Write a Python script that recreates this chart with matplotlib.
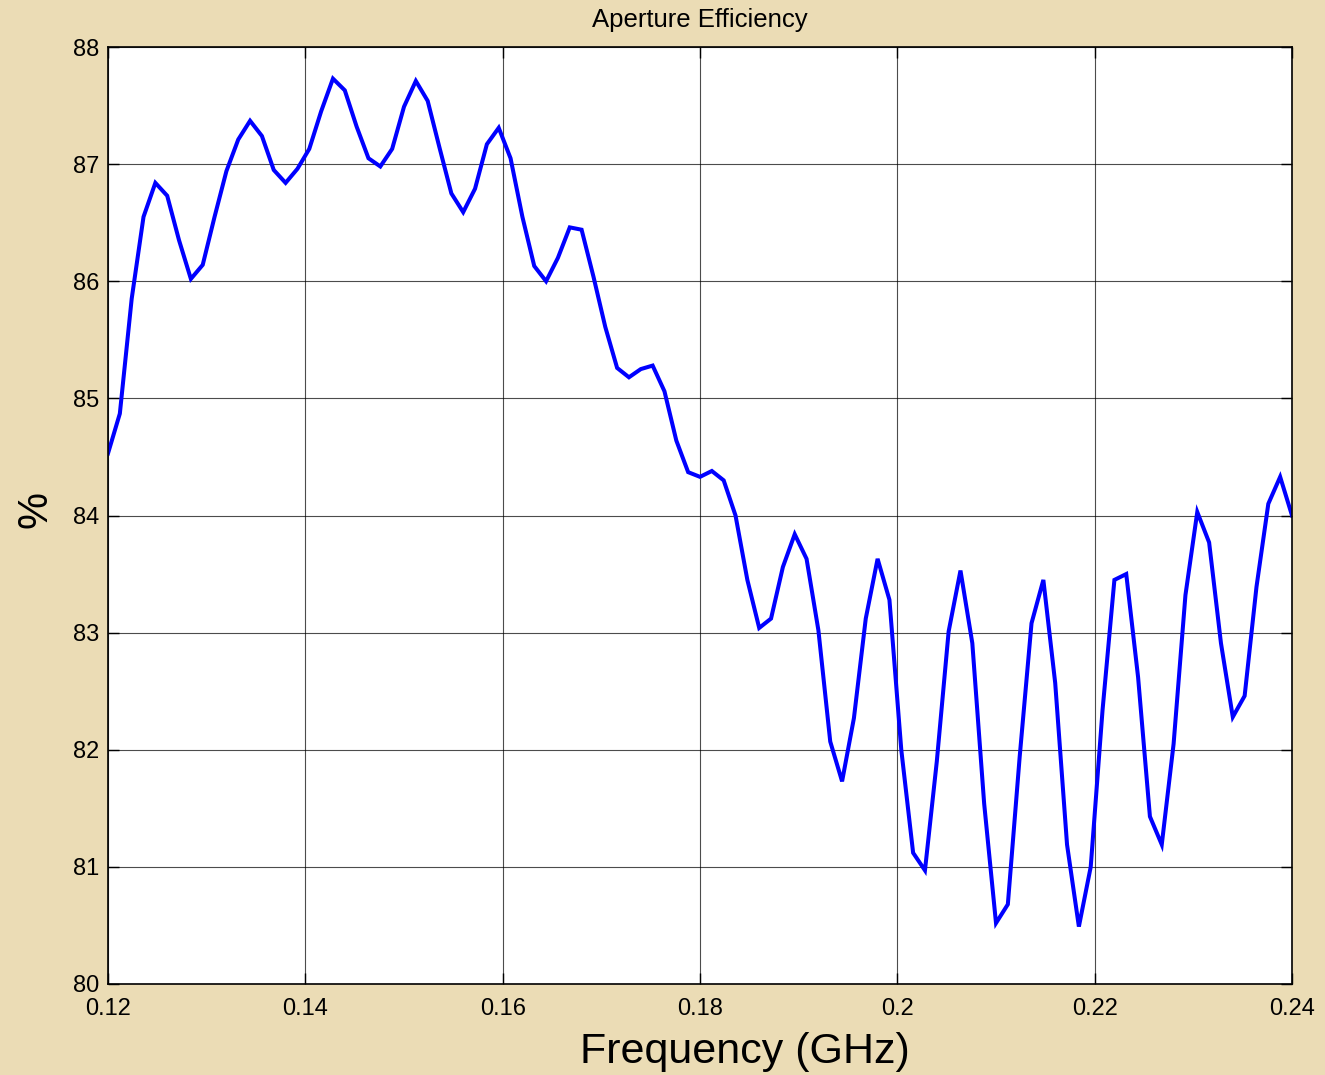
import matplotlib
matplotlib.use("Agg")
import matplotlib.pyplot as plt
import numpy as np

freq_start = 0.12
freq_step = 0.0012
efficiency = [
    84.53, 84.87, 85.85, 86.55, 86.84, 86.73, 86.35, 86.02, 86.14, 86.55,
    86.94, 87.21, 87.37, 87.24, 86.95, 86.84, 86.96, 87.13, 87.45, 87.73,
    87.63, 87.32, 87.05, 86.98, 87.13, 87.49, 87.71, 87.54, 87.14, 86.75,
    86.59, 86.79, 87.17, 87.31, 87.05, 86.55, 86.13, 86.00, 86.20, 86.46,
    86.44, 86.04, 85.61, 85.26, 85.18, 85.25, 85.28, 85.06, 84.64, 84.37,
    84.33, 84.38, 84.30, 84.00, 83.45, 83.04, 83.12, 83.56, 83.84, 83.63,
    83.02, 82.07, 81.73, 82.27, 83.12, 83.63, 83.28, 82.00, 81.12, 80.97,
    81.90, 83.01, 83.53, 82.91, 81.54, 80.52, 80.68, 81.94, 83.08, 83.45,
    82.57, 81.19, 80.49, 81.00, 82.34, 83.45, 83.50, 82.62, 81.43, 81.19,
    82.05, 83.32, 84.03, 83.77, 82.91, 82.28, 82.46, 83.39, 84.10, 84.33,
    84.00,
]
freq = [freq_start + freq_step * i for i in range(len(efficiency))]

x_ticks = [0.12, 0.14, 0.16, 0.18, 0.2, 0.22, 0.24]
x_tick_labels = ["0.12", "0.14", "0.16", "0.18", "0.2", "0.22", "0.24"]
y_ticks = [80, 81, 82, 83, 84, 85, 86, 87, 88]

plt.rcParams['font.family'] = ['Liberation Sans', 'DejaVu Sans']

bg = '#EBDCB5'
W, H = 1325, 1075
fig = plt.figure(figsize=(W / 100, H / 100), dpi=100, facecolor=bg)
ax = fig.add_axes([108/W, 1 - 984/H, (1292-108)/W, (984-47)/H])
ax.set_facecolor('white')

ax.plot(freq, efficiency, color='#0000FF', lw=2.9, solid_joinstyle='miter')

ax.set_xlim(0.12, 0.24)
ax.set_ylim(80, 88)
ax.set_xticks(x_ticks)
ax.set_xticklabels(x_tick_labels)
ax.set_yticks(y_ticks)
ax.grid(True, color='black', lw=0.8, alpha=0.7)
ax.tick_params(direction='in', length=8, width=1, top=True, right=True,
               labelsize=17)
ax.tick_params(axis='x', pad=10)
ax.tick_params(axis='y', pad=6)
for s in ax.spines.values():
    s.set_linewidth(1.2)
    s.set_color('black')

fig.text(700/W, 1 - 20/H, 'Aperture Efficiency', fontsize=18.5,
         ha='center', va='center')
fig.text(745/W, 1 - 1052/H, 'Frequency (GHz)', fontsize=31,
         ha='center', va='center')
fig.text(36/W, 1 - 510/H, '%', fontsize=30, rotation=90,
         ha='center', va='center')

fig.savefig('out.png', dpi=100, facecolor=bg)
